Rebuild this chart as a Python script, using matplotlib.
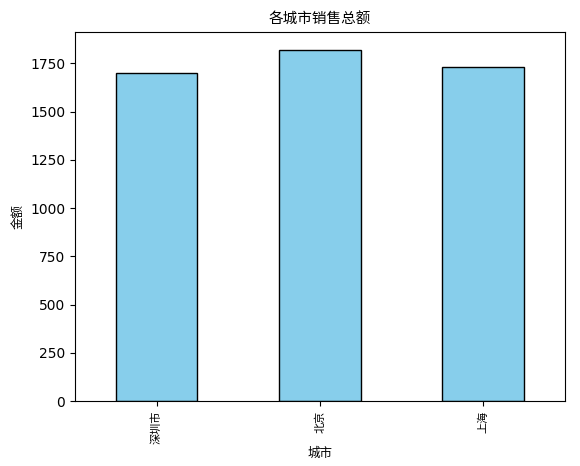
import matplotlib
matplotlib.use('Agg')
import matplotlib.pyplot as plt

# 各城市销售总额
cities = ['深圳市', '北京', '上海']
totals = [1700, 1821, 1734]

plt.rcParams['font.family'] = ['DejaVu Sans', 'Noto Sans CJK SC']
plt.rcParams['axes.unicode_minus'] = False

fig = plt.figure(figsize=(5.8, 4.66), dpi=100)
ax = fig.add_axes([0.129, 0.139, 0.845, 0.792])

x = range(len(cities))
ax.bar(x, totals, width=0.5, color='skyblue', edgecolor='black')
ax.set_xlim(-0.5, len(cities) - 0.5)
ax.set_xticks(list(x))
ax.set_xticklabels(cities, rotation=90, fontsize=8)

ax.set_title('各城市销售总额', fontsize=10.5)
ax.set_xlabel('城市', fontsize=9, labelpad=2)
ax.set_ylabel('金额', fontsize=9)

fig.savefig('out.png', dpi=100)
plt.close(fig)
